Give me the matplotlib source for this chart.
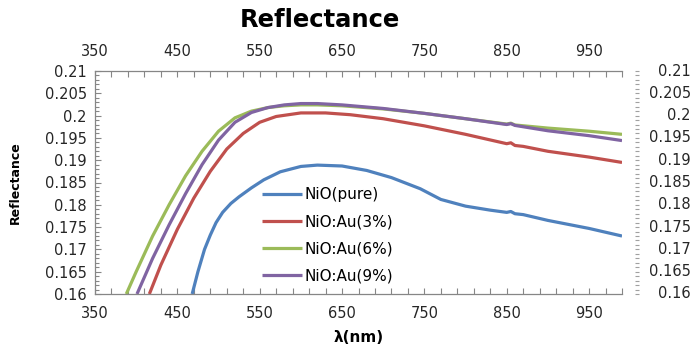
import matplotlib
matplotlib.use("Agg")
import matplotlib.pyplot as plt
from matplotlib.ticker import MultipleLocator, FixedLocator, NullFormatter

# ---- data ----
wl_pure = [468, 475, 483, 490, 497, 505, 515, 525, 540, 555, 575, 600, 620, 650, 680, 710, 745, 770, 800, 830, 850, 855, 860, 870, 900, 950, 990]
r_pure = [0.1600, 0.1650, 0.1700, 0.1732, 0.1760, 0.1783, 0.1803, 0.1818, 0.1838, 0.1856, 0.1874, 0.1886, 0.1889, 0.1887, 0.1877, 0.1861, 0.1836, 0.1812, 0.1797, 0.1788, 0.1783, 0.1785, 0.1780, 0.1778, 0.1765, 0.1747, 0.1730]

wl_3 = [416, 430, 450, 470, 490, 510, 530, 550, 570, 600, 630, 660, 700, 750, 800, 850, 855, 860, 870, 900, 950, 990]
r_3 = [0.1600, 0.1665, 0.1745, 0.1815, 0.1875, 0.1925, 0.1960, 0.1985, 0.1998, 0.2006, 0.2006, 0.2002, 0.1993, 0.1977, 0.1958, 0.1937, 0.1939, 0.1933, 0.1931, 0.1920, 0.1907, 0.1895]

wl_6 = [388, 400, 420, 440, 460, 480, 500, 520, 540, 560, 580, 600, 620, 650, 700, 750, 800, 850, 855, 860, 900, 950, 990]
r_6 = [0.1600, 0.1650, 0.1730, 0.1800, 0.1865, 0.1920, 0.1965, 0.1995, 0.2010, 0.2018, 0.2022, 0.2024, 0.2024, 0.2022, 0.2015, 0.2005, 0.1993, 0.1981, 0.1983, 0.1979, 0.1972, 0.1965, 0.1958]

wl_9 = [401, 420, 440, 460, 480, 500, 520, 540, 560, 580, 600, 620, 650, 700, 750, 800, 850, 855, 860, 900, 950, 990]
r_9 = [0.1600, 0.1680, 0.1755, 0.1825, 0.1890, 0.1945, 0.1985, 0.2007, 0.2018, 0.2024, 0.2027, 0.2027, 0.2024, 0.2016, 0.2005, 0.1993, 0.1980, 0.1982, 0.1978, 0.1966, 0.1955, 0.1944]

labels = ["NiO(pure)", "NiO:Au(3%)", "NiO:Au(6%)", "NiO:Au(9%)"]
colors = ["#4F81BD", "#C0504D", "#9BBB59", "#8064A2"]
x_ticks = [350, 450, 550, 650, 750, 850, 950]
y_ticks = [0.16, 0.165, 0.17, 0.175, 0.18, 0.185, 0.19, 0.195, 0.2, 0.205, 0.21]
y_ticklabels = ["0.16", "0.165", "0.17", "0.175", "0.18", "0.185", "0.19", "0.195", "0.2", "0.205", "0.21"]

plt.rcParams["font.family"] = ["DejaVu Sans"]
fig = plt.figure(figsize=(6.99, 3.56), dpi=100)
ax = fig.add_axes([95 / 699, 1 - 294 / 356, 527 / 699, 223 / 356])

series = [(wl_pure, r_pure), (wl_3, r_3), (wl_6, r_6), (wl_9, r_9)]
for (x, y), lab, c in zip(series, labels, colors):
    ax.plot(x, y, color=c, lw=2.3, label=lab, solid_capstyle="butt", solid_joinstyle="round")

ax.set_xlim(350, 990)
ax.set_ylim(0.16, 0.21)

gray = "#868686"
for s in ["left", "bottom", "top"]:
    ax.spines[s].set_color(gray)
    ax.spines[s].set_linewidth(0.9)
ax.spines["right"].set_visible(False)

ax.xaxis.set_major_locator(FixedLocator(x_ticks))
ax.xaxis.set_minor_locator(MultipleLocator(20, offset=10))
ax.set_xticklabels([str(v) for v in x_ticks])
ax.yaxis.set_major_locator(FixedLocator(y_ticks))
ax.yaxis.set_minor_locator(MultipleLocator(0.001))
ax.set_yticklabels(y_ticklabels)

ax.tick_params(axis="x", which="both", direction="in", top=True, bottom=True,
               labeltop=True, labelbottom=True, color=gray, length=4, width=0.8)
ax.tick_params(axis="x", which="major", pad=9, labelsize=10.5, labelcolor="#262626")
ax.tick_params(axis="y", which="both", direction="in", left=True, right=False,
               color=gray, width=0.8)
ax.tick_params(axis="y", which="major", length=4, pad=6, labelsize=10.5, labelcolor="#262626")
ax.tick_params(axis="y", which="minor", length=3)

# right-side duplicate axis (tick column + right-aligned labels)
ax2 = ax.twinx()
ax2.set_ylim(0.16, 0.21)
for s in ["left", "bottom", "top", "right"]:
    ax2.spines[s].set_visible(False)
ax2.spines["right"].set_position(("outward", 9))
ax2.yaxis.set_major_locator(FixedLocator(y_ticks))
ax2.yaxis.set_minor_locator(MultipleLocator(0.001))
ax2.yaxis.set_major_formatter(NullFormatter())
ax2.tick_params(axis="y", which="both", direction="out", color="#A0A0A0", width=0.8, length=3)
rx = (691 - 95) / 527
for v, t in zip(y_ticks, y_ticklabels):
    ax.text(rx, v, t, transform=ax.get_yaxis_transform(), ha="right", va="center",
            fontsize=10.5, color="#262626", clip_on=False)

ax.set_xlabel("λ(nm)", fontsize=11, fontweight="bold", labelpad=6)
fig.text(15 / 699, 1 - 183 / 356, "Reflectance", rotation=90, fontsize=9,
         fontweight="bold", ha="center", va="center")
fig.text(320 / 699, 1 - 20 / 356, "Reflectance", fontsize=17.5, fontweight="bold",
         ha="center", va="center")

leg = ax.legend(loc="upper left", bbox_to_anchor=(0.317, 0.48), frameon=False,
                fontsize=11, handlelength=2.6, handletextpad=0.2, labelspacing=0.8,
                borderpad=0, borderaxespad=0)

fig.savefig("out.png", dpi=100, facecolor="white")
